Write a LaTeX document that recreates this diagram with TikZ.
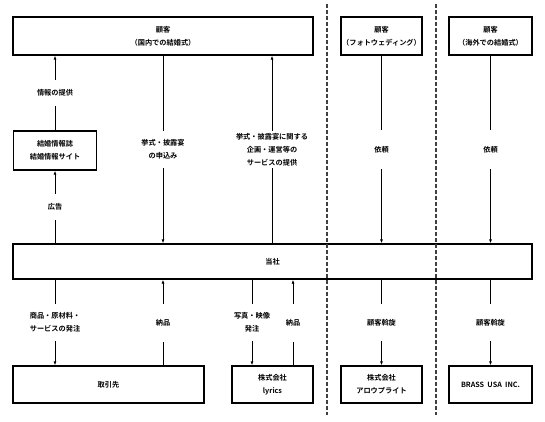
\documentclass[tikz,border=0pt]{standalone}
\usepackage{fontspec}
\setmainfont{Noto Sans CJK JP}[BoldFont={* Bold}]
\usetikzlibrary{arrows.meta}

\begin{document}
\begin{tikzpicture}[x=1pt, y=-1pt,
  font=\fontsize{7.2}{13}\selectfont\bfseries,
  box/.style={draw, line width=1.3pt, align=center, inner sep=0pt},
  lbl/.style={fill=white, align=center, inner sep=0pt},
  flow/.style={line width=0.9pt, -{Latex[length=4pt, width=3pt]}},
  sep/.style={draw=black!75, line width=1.2pt, dash pattern=on 4pt off 2pt}]
\useasboundingbox (0,0) rectangle (545,422);
\node[box, minimum width=300, minimum height=38] (kokyaku) at (163,36) {顧客\\（国内での結婚式）};
\node[box, minimum width=81, minimum height=38] (photo) at (381.5,36) {顧客\\（フォトウェディング）};
\node[box, minimum width=83, minimum height=38] (kaigai) at (490.5,36) {顧客\\（海外での結婚式）};
\node[box, minimum width=83, minimum height=39] (zasshi) at (55,150.5) {結婚情報誌\\結婚情報サイト};
\node[box, minimum width=519, minimum height=35] (tousha) at (272.5,261.5) {当社};
\node[box, minimum width=191, minimum height=37] (torihiki) at (108.5,384.5) {取引先};
\node[box, minimum width=81, minimum height=37] (lyrics) at (272.5,384.5) {株式会社\\lyrics};
\node[box, minimum width=81, minimum height=37] (arrow) at (381.5,384.5) {株式会社\\アロウプライト};
\node[box, minimum width=83, minimum height=37] (brass) at (490.5,384.5) {BRASS\ \ USA\ \ INC.};
\coordinate (kikaku) at (272,0);
\coordinate (hachu) at (252,0);
\coordinate (nouhin) at (293,0);
\draw[sep] (327,4) -- (327,415);
\draw[sep] (436,4) -- (436,415);
\draw[flow] (zasshi.north) -- node[lbl, minimum height=26] {情報の提供} (kokyaku.south -| zasshi);
\draw[flow] (tousha.north -| zasshi) -- node[lbl, minimum height=26] {広告} (zasshi.south);
\draw[flow] (kokyaku.south) -- node[lbl, minimum height=37] {挙式・披露宴\\の申込み} (tousha.north -| kokyaku);
\draw[flow] (tousha.north -| kikaku) -- node[lbl, minimum height=37] {挙式・披露宴に関する\\企画・運営等の\\サービスの提供} (kokyaku.south -| kikaku);
\draw[flow] (photo.south) -- node[lbl, minimum height=38] {依頼} (tousha.north -| photo);
\draw[flow] (kaigai.south) -- node[lbl, minimum height=38] {依頼} (tousha.north -| kaigai);
\draw[flow] (tousha.south -| zasshi) -- node[lbl, minimum height=37] {商品・原材料・\\サービスの発注} (torihiki.north -| zasshi);
\draw[flow] (torihiki.north -| kokyaku) -- node[lbl, minimum height=38] {納品} (tousha.south -| kokyaku);
\draw[flow] (tousha.south -| hachu) -- node[lbl, minimum height=37] {写真・映像\\発注} (lyrics.north -| hachu);
\draw[flow] (lyrics.north -| nouhin) -- node[lbl, minimum height=38] {納品} (tousha.south -| nouhin);
\draw[flow] (tousha.south -| arrow) -- node[lbl, minimum height=37] {顧客斡旋} (arrow.north);
\draw[flow] (tousha.south -| brass) -- node[lbl, minimum height=37] {顧客斡旋} (brass.north);
\end{tikzpicture}
\end{document}
